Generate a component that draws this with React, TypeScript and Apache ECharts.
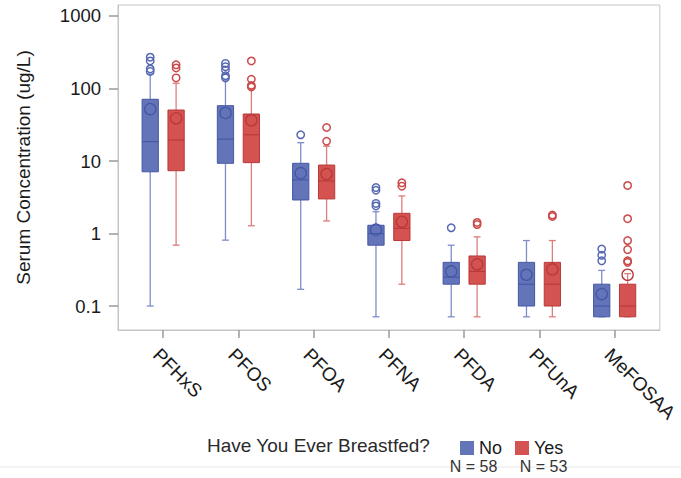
import React, { useEffect, useRef } from "react";
import * as echarts from "echarts";

// ---------- data ----------
const categories = ["PFHxS", "PFOS", "PFOA", "PFNA", "PFDA", "PFUnA", "MeFOSAA"];
const groupNames = ["No", "Yes"];
const groupCounts = [58, 53];
const yTicks = [0.1, 1, 10, 100, 1000];

// "No" group
const noLow = [0.1, 0.81, 0.17, 0.071, 0.071, 0.071, 0.071];
const noQ1 = [7.1, 9.3, 2.9, 0.69, 0.2, 0.1, 0.071];
const noMedian = [18.5, 20, 5.5, 1.0, 0.25, 0.2, 0.1];
const noQ3 = [71, 58, 9.3, 1.3, 0.4, 0.4, 0.2];
const noHigh = [158, 131, 17.9, 2.0, 0.69, 0.8, 0.31];
const noMean = [52, 46, 6.8, 1.13, 0.3, 0.27, 0.146];
const noOutliers = [
  [270, 240, 186, 172],
  [222, 200, 180, 150, 140],
  [23],
  [4.3, 3.95, 2.6, 2.4],
  [1.2],
  [],
  [0.61, 0.5, 0.42],
];

// "Yes" group
const yesLow = [0.69, 1.28, 1.49, 0.2, 0.071, 0.071, 0.071];
const yesQ1 = [7.35, 9.5, 3.0, 0.8, 0.2, 0.1, 0.071];
const yesMedian = [19.5, 23, 5.3, 1.18, 0.3, 0.2, 0.1];
const yesQ3 = [50.5, 44.5, 8.8, 1.9, 0.49, 0.4, 0.2];
const yesHigh = [118, 100, 16, 3.3, 0.9, 0.8, 0.28];
const yesMean = [38.8, 36.5, 6.6, 1.45, 0.376, 0.32, 0.27];
const yesOutliers = [
  [212, 192, 140],
  [240, 134, 110, 105],
  [29, 18.7],
  [5.0, 4.5],
  [1.42, 1.33],
  [1.8, 1.72],
  [4.6, 1.6, 0.8, 0.6, 0.42, 0.4],
];

// ---------- styling ----------
const FONT = "'Liberation Sans', Arial, Helvetica, sans-serif";
const STYLES = [
  { fill: "#6374b9", border: "#4457a4", whisker: "#7e8dc8", outlier: "#5869b4", offset: -0.172 },
  { fill: "#d4524f", border: "#b8393a", whisker: "#dc7e7c", outlier: "#cb4a4a", offset: 0.172 },
];
const BOX_HALF = 0.108;
const CAP_HALF = 0.046;
const FRAME = "#c4c4c4";
const TICK = "#9a9a9a";

function makeBoxRender(st: any) {
  return (params: any, api: any) => {
    const i = api.value(0);
    const off = st.offset;
    const py = (v: number) => api.coord([i + off, v])[1];
    const xc = api.coord([i + off, 1])[0];
    const xl = api.coord([i + off - BOX_HALF, 1])[0];
    const xr = api.coord([i + off + BOX_HALF, 1])[0];
    const cl = api.coord([i + off - CAP_HALF, 1])[0];
    const cr = api.coord([i + off + CAP_HALF, 1])[0];
    const low = py(api.value(1));
    const q1 = py(api.value(2));
    const med = py(api.value(3));
    const q3 = py(api.value(4));
    const high = py(api.value(5));
    const mean = py(api.value(6));
    const wStyle = { stroke: st.whisker, lineWidth: 1.3 };
    return {
      type: "group",
      children: [
        { type: "line", shape: { x1: xc, y1: q1, x2: xc, y2: low }, style: wStyle },
        { type: "line", shape: { x1: xc, y1: q3, x2: xc, y2: high }, style: wStyle },
        { type: "line", shape: { x1: cl, y1: low, x2: cr, y2: low }, style: wStyle },
        { type: "line", shape: { x1: cl, y1: high, x2: cr, y2: high }, style: wStyle },
        {
          type: "rect",
          shape: { x: xl, y: q3, width: xr - xl, height: q1 - q3 },
          style: { fill: st.fill, stroke: st.border, lineWidth: 1 },
        },
        { type: "line", shape: { x1: xl, y1: med, x2: xr, y2: med }, style: { stroke: st.border, lineWidth: 1.1 } },
        { type: "circle", shape: { cx: xc, cy: mean, r: 5.6 }, style: { fill: "none", stroke: st.border, lineWidth: 1.3 } },
      ],
    };
  };
}

function makeOutlierRender(st: any) {
  return (params: any, api: any) => {
    const p = api.coord([api.value(0) + st.offset, api.value(1)]);
    return {
      type: "circle",
      shape: { cx: p[0], cy: p[1], r: 3.7 },
      style: { fill: "none", stroke: st.outlier, lineWidth: 1.5 },
    };
  };
}

const groups = [
  { low: noLow, q1: noQ1, med: noMedian, q3: noQ3, high: noHigh, mean: noMean, out: noOutliers },
  { low: yesLow, q1: yesQ1, med: yesMedian, q3: yesQ3, high: yesHigh, mean: yesMean, out: yesOutliers },
];

export default function App() {
  const ref = useRef<HTMLDivElement>(null);
  useEffect(() => {
    document.body.style.margin = "0";
    if (!ref.current) return;
    const chart = echarts.init(ref.current, undefined, { renderer: "svg" });

    const series: any[] = [];
    groups.forEach((g, gi) => {
      const st = STYLES[gi];
      const boxData = categories.map((_, i) => [i, g.low[i], g.q1[i], g.med[i], g.q3[i], g.high[i], g.mean[i]]);
      const outData: number[][] = [];
      g.out.forEach((arr, i) => arr.forEach((v) => outData.push([i, v])));
      series.push({
        name: groupNames[gi],
        type: "custom",
        coordinateSystem: "cartesian2d",
        itemStyle: { color: st.fill },
        encode: { x: 0, y: [1, 2, 3, 4, 5, 6] },
        renderItem: makeBoxRender(st),
        data: boxData,
        clip: false,
      });
      series.push({
        name: groupNames[gi],
        type: "custom",
        coordinateSystem: "cartesian2d",
        itemStyle: { color: st.fill },
        encode: { x: 0, y: 1 },
        renderItem: makeOutlierRender(st),
        data: outData,
        clip: false,
      });
    });

    const option: any = {
      animation: false,
      backgroundColor: "#ffffff",
      textStyle: { fontFamily: FONT },
      grid: {
        left: 118,
        right: 19,
        top: 5,
        bottom: 148,
        show: true,
        borderColor: FRAME,
        borderWidth: 1,
        backgroundColor: "transparent",
      },
      xAxis: {
        type: "value",
        position: "bottom",
        min: -0.6,
        max: 6.6,
        splitLine: { show: false },
        axisLine: { show: true, onZero: false, lineStyle: { color: FRAME } },
        axisTick: {
          show: true,
          length: 8,
          lineStyle: { color: TICK, width: 1.5 },
          customValues: categories.map((_, i) => i),
        },
        axisLabel: {
          customValues: categories.map((_, i) => i),
          formatter: (v: number) => categories[Math.round(v)] ?? "",
          rotate: -45,
          verticalAlign: "top",
          margin: 15,
          fontSize: 19,
          color: "#1a1a1a",
          fontFamily: FONT,
        },
      },
      yAxis: {
        type: "log",
        position: "left",
        min: 0.0467,
        max: 1418,
        name: "Serum Concentration (ug/L)",
        nameLocation: "middle",
        nameRotate: 90,
        nameGap: 85,
        nameTextStyle: { fontSize: 19, color: "#1a1a1a", fontFamily: FONT },
        splitLine: { show: false },
        axisLine: { show: true, onZero: false, lineStyle: { color: FRAME } },
        axisTick: {
          show: true,
          length: 9,
          lineStyle: { color: TICK, width: 1.5 },
          customValues: yTicks,
        },
        axisLabel: {
          customValues: yTicks,
          formatter: (v: number) => String(v),
          margin: 17,
          fontSize: 18.5,
          color: "#1a1a1a",
          fontFamily: FONT,
        },
      },
      legend: {
        left: 455,
        top: 434,
        itemWidth: 14,
        itemHeight: 14,
        itemGap: 13,
        icon: "rect",
        selectedMode: false,
        textStyle: { fontSize: 18, color: "#1a1a1a", fontFamily: FONT },
        data: groupNames.map((n, gi) => ({ name: n, itemStyle: { color: STYLES[gi].fill } })),
      },
      graphic: [
        {
          type: "line",
          shape: { x1: 0, y1: 467, x2: 681, y2: 467 },
          style: { stroke: "#e8e8e8", lineWidth: 1 },
          silent: true,
          z: -1,
        },
        {
          type: "text",
          x: 207,
          y: 445,
          style: {
            text: "Have You Ever Breastfed?",
            fontSize: 19,
            fill: "#2a2a2a",
            fontFamily: FONT,
            textVerticalAlign: "middle",
          },
        },
        ...groupCounts.map((n, gi) => ({
          type: "text",
          x: gi === 0 ? 473.5 : 543.5,
          y: 466,
          style: {
            text: `N = ${n}`,
            fontSize: 16,
            fill: "#333",
            fontFamily: FONT,
            textAlign: "center",
            textVerticalAlign: "middle",
          },
        })),
      ],
      series,
    };
    chart.setOption(option);
    return () => chart.dispose();
  }, []);
  return <div ref={ref} style={{ width: 681, height: 478 }} />;
}
